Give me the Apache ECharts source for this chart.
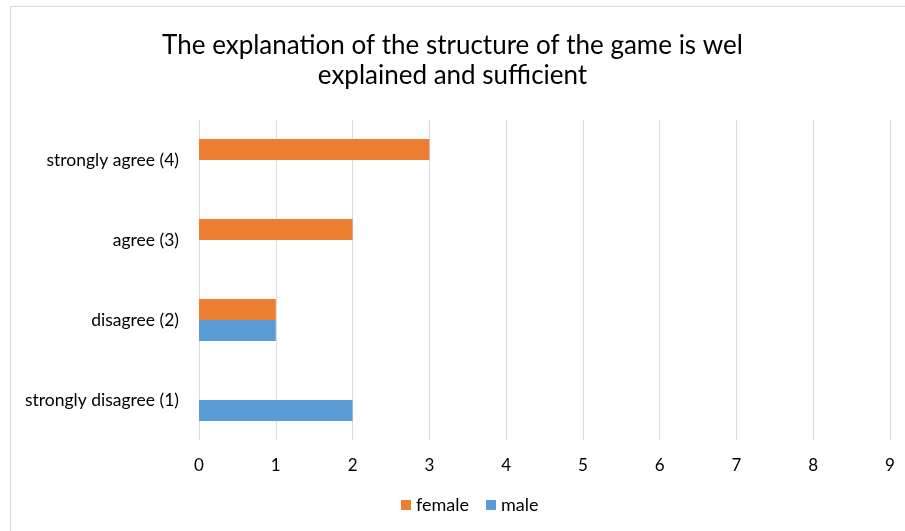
<!DOCTYPE html>
<html>
<head>
<meta charset="utf-8">
<script src="https://cdn.jsdelivr.net/npm/echarts@6/dist/echarts.min.js"></script>
<style>
  html, body { margin: 0; padding: 0; background: #fff; }
  #chart { width: 905px; height: 531px; }
  #frame { position: absolute; left: 10px; top: 6px; width: 905px; height: 540px; border: 1px solid #d9d9d9; box-sizing: border-box; pointer-events: none; }
</style>
</head>
<body>
<div id="chart"></div>
<div id="frame"></div>
<script>
const categories = ['strongly disagree (1)', 'disagree (2)', 'agree (3)', 'strongly agree (4)'];
const maleValues = [2, 1, 0, 0];
const femaleValues = [0, 1, 2, 3];
const xTicks = { min: 0, max: 9, interval: 1 };

const font = 'Lato, "Open Sans", sans-serif';
const chart = echarts.init(document.getElementById('chart'), null, { renderer: 'canvas' });
chart.setOption({
  animation: false,
  title: {
    text: 'The explanation of the structure of the game is wel\nexplained and sufficient',
    left: 'center',
    top: 26,
    textStyle: { fontFamily: font, fontSize: 26, fontWeight: 'normal', color: '#000', lineHeight: 30 }
  },
  legend: {
    data: ['female', 'male'],
    bottom: 12,
    left: 396,
    itemWidth: 10,
    itemHeight: 10,
    itemGap: 17,
    icon: 'rect',
    textStyle: { fontFamily: font, fontSize: 18, color: '#000' }
  },
  grid: { left: 199, right: 15, top: 120, bottom: 91, containLabel: false },
  xAxis: {
    type: 'value',
    min: xTicks.min,
    max: xTicks.max,
    interval: xTicks.interval,
    axisLine: { show: false },
    axisTick: { show: false },
    axisLabel: { fontFamily: font, fontSize: 17, color: '#000', margin: 17 },
    splitLine: { lineStyle: { color: '#d9d9d9', width: 1 } }
  },
  yAxis: {
    type: 'category',
    data: categories,
    axisLine: { show: false },
    axisTick: { show: false },
    axisLabel: { fontFamily: font, fontSize: 17.5, color: '#000', margin: 20 }
  },
  series: [
    {
      name: 'female', type: 'bar', data: femaleValues,
      itemStyle: { color: '#ed7d31' },
      barGap: '0%', barCategoryGap: '47.5%'
    },
    {
      name: 'male', type: 'bar', data: maleValues,
      itemStyle: { color: '#5b9bd5' },
      barGap: '0%', barCategoryGap: '47.5%'
    }
  ]
});
</script>
</body>
</html>
